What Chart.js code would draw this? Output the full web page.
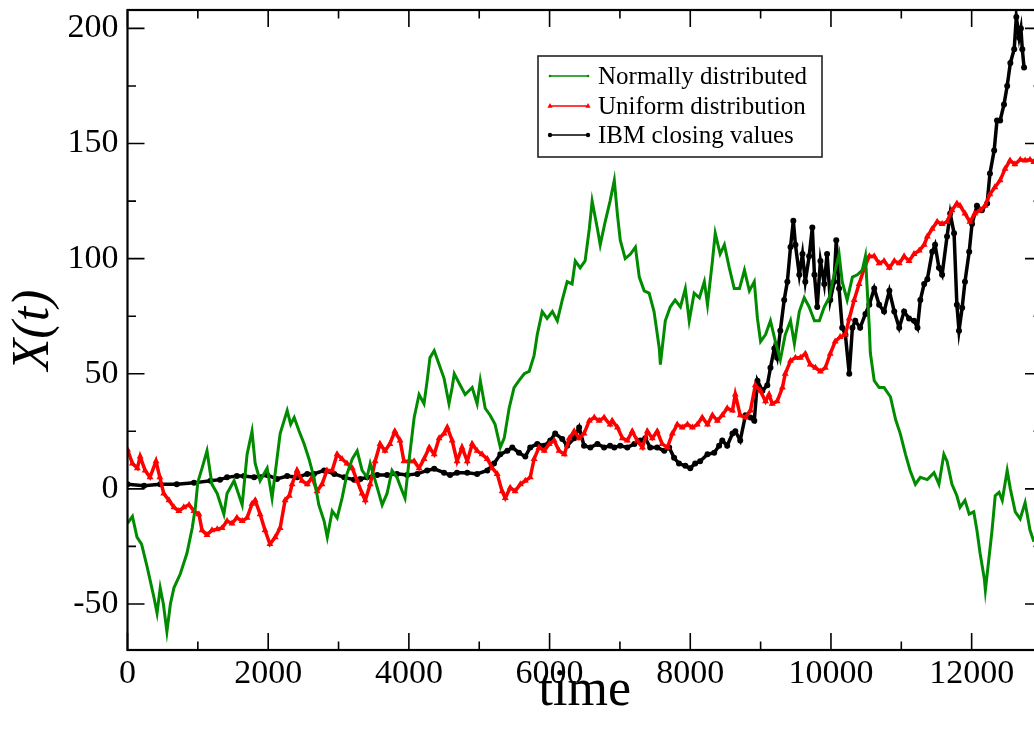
<!DOCTYPE html>
<html>
<head>
<meta charset="utf-8">
<script src="https://cdn.jsdelivr.net/npm/chart.js@4/dist/chart.umd.min.js"></script>
<style>
html,body{margin:0;padding:0;background:#fff;overflow:hidden;width:1034px;height:733px;}
canvas{display:block;}
</style>
</head>
<body>
<canvas id="c" width="1050" height="733"></canvas>
<script>
// ---- data: [time, X(t)] ----
const normalPoints = [[0,-15],[70,-12],[135,-21],[200,-24],[280,-34],[375,-47],[420,-54],[465,-43],[510,-50],[560,-62],[610,-50],[660,-43],[750,-37],[845,-28],[920,-17],[965,-8],[1000,3],[1060,9],[1130,16.5],[1200,2],[1275,-2],[1370,-11],[1415,-2],[1515,3.5],[1630,-7],[1700,15],[1770,25],[1815,11],[1885,3.5],[1985,9],[2055,-4],[2125,13],[2170,24],[2270,34],[2320,28],[2370,31],[2440,25],[2510,19.6],[2580,13],[2650,5],[2720,-7],[2795,-14],[2840,-21],[2910,-9.6],[2980,-12.6],[3050,-4],[3120,6.5],[3195,13],[3265,16.5],[3335,8],[3405,5],[3450,11],[3550,0.5],[3620,-7],[3690,-2],[3760,8],[3830,5],[3905,-1],[3945,-4],[4005,13],[4075,31],[4145,41],[4215,37],[4260,47],[4300,57],[4360,60],[4430,54],[4500,48],[4570,37],[4615,44],[4645,50],[4730,45],[4800,41],[4900,44],[4970,37],[5015,47],[5085,35],[5155,32],[5225,28],[5300,18],[5355,22],[5425,35],[5495,44],[5565,47],[5640,50],[5710,51],[5780,58],[5825,67],[5895,77],[5965,74],[6040,77],[6110,73],[6180,82],[6250,90],[6320,89],[6365,99],[6435,96],[6505,99],[6565,113],[6605,125],[6680,113],[6720,106],[6790,116],[6860,125],[6920,134],[6965,119],[7005,108],[7075,100],[7150,102],[7220,105],[7275,92],[7345,86],[7415,85],[7485,77],[7560,61],[7575,54],[7645,73],[7715,79],[7785,82],[7860,79],[7930,87],[7985,73],[8055,85],[8130,83],[8200,90],[8245,80],[8315,99],[8355,111],[8425,102],[8485,106],[8555,96],[8625,87],[8700,87],[8770,95],[8840,86],[8910,90],[8955,74],[9000,64],[9070,67],[9140,73],[9210,64],[9280,56],[9350,67],[9425,73],[9480,63],[9550,77],[9620,83],[9690,79],[9765,73],[9835,73],[9905,79],[9975,83],[10045,93],[10115,102],[10160,90],[10230,82],[10305,92],[10375,93],[10445,95],[10490,101],[10515,87],[10545,70],[10560,59],[10615,47],[10685,44],[10755,44],[10845,40],[10920,30],[10985,24],[11060,15],[11125,8],[11200,2],[11270,5],[11370,4],[11465,7],[11535,2],[11605,15],[11650,12],[11720,2],[11790,-3],[11835,-8],[11905,-5],[11965,-11],[12030,-10],[12075,-18],[12120,-28],[12180,-39],[12195,-44],[12250,-29],[12290,-18],[12335,-3],[12390,-1.5],[12435,-5],[12505,8],[12550,0],[12620,-10],[12690,-13],[12760,-6],[12830,-18],[12885,-23]];

const uniformPoints = [[0,17],[70,11],[140,9],[180,14],[250,8],[320,5],[405,12],[460,5],[515,-2],[590,-5],[660,-8],[730,-9.6],[800,-8],[875,-7],[945,-9.6],[1015,-11],[1060,-18],[1130,-20],[1200,-18],[1275,-17.5],[1345,-17],[1415,-14],[1485,-15],[1555,-12.6],[1630,-14],[1700,-12.6],[1770,-6.5],[1815,-5],[1885,-11],[1955,-18],[2025,-24],[2100,-21],[2170,-17],[2240,-5],[2300,-3],[2340,2],[2410,8],[2480,3.5],[2555,2],[2625,5],[2695,-1],[2765,2],[2835,8],[2910,8],[2980,15],[3050,13],[3120,11],[3195,9],[3265,3.5],[3335,-2],[3380,-5],[3450,2],[3520,12],[3590,19.5],[3660,16.5],[3730,19.5],[3800,25],[3875,21],[3930,12],[4005,12],[4075,12],[4145,9],[4215,13],[4290,18],[4360,15],[4430,22],[4500,24],[4545,26.7],[4615,21],[4685,12],[4755,18],[4830,12],[4900,19.5],[4970,16.5],[5040,15],[5115,13],[5185,9],[5255,6.5],[5325,-1],[5370,-4],[5440,0.5],[5510,-1],[5585,2],[5655,3.5],[5725,5],[5780,13],[5850,18],[5925,16.5],[5995,19.5],[6065,21],[6135,16.5],[6210,15],[6280,22],[6350,25],[6420,22],[6490,24],[6565,29.6],[6635,31],[6705,29.6],[6775,31],[6860,28],[6890,29.6],[6965,26.7],[7035,22],[7105,21],[7175,25],[7245,21],[7320,18],[7390,25],[7460,22],[7530,25],[7600,19.5],[7675,18],[7745,24],[7815,28],[7885,26.7],[7960,28],[8030,26.7],[8100,28],[8170,31],[8245,28],[8315,32],[8385,29.6],[8455,32],[8525,35],[8600,34],[8640,41],[8710,32],[8785,31],[8855,34],[8925,45],[8995,42.6],[9070,38],[9120,41],[9165,37],[9235,38],[9310,44],[9350,50],[9425,55.6],[9495,57],[9565,57],[9635,58.7],[9705,54],[9780,52.6],[9850,51],[9920,52.6],[9990,58.7],[10060,64],[10130,66],[10205,67],[10260,74],[10330,82],[10400,89],[10475,96],[10545,101],[10615,101],[10685,98],[10755,99],[10830,96],[10900,99],[10970,98],[11040,101],[11110,99],[11180,102],[11255,103.5],[11325,106],[11370,109.6],[11440,113],[11510,116],[11580,115],[11650,116],[11720,121],[11790,124],[11835,123],[11905,119.6],[11975,116],[12045,119.6],[12120,121],[12190,123],[12260,128],[12330,131],[12405,134],[12475,139],[12545,142.6],[12615,141],[12690,143],[12760,142.6],[12830,143],[12885,142]];

const ibmPoints = [[0,2],[235,1.3],[465,2],[700,2],[945,2.6],[1180,3.5],[1315,4],[1415,5],[1555,5.6],[1655,5.6],[1800,5],[1985,6],[2125,4.3],[2270,5.6],[2410,5],[2555,6.5],[2650,6.5],[2795,8],[2940,6.5],[3080,5],[3220,4],[3310,4.3],[3405,5],[3550,6],[3690,6],[3830,6.5],[3975,6],[4120,6.5],[4260,8],[4360,8.7],[4500,7],[4585,6],[4685,7],[4830,7],[4970,6.5],[5115,8],[5210,11],[5300,15],[5400,16.5],[5470,18],[5565,15.7],[5655,14],[5725,18],[5825,19.5],[5925,18.7],[6010,21],[6080,24],[6180,21.7],[6250,18.7],[6350,22],[6420,26.7],[6490,18.7],[6580,18],[6680,19.5],[6775,18],[6860,18.7],[6920,18],[7005,18.7],[7105,18],[7205,19.5],[7290,21],[7360,22],[7430,18],[7530,18],[7630,16.5],[7700,18],[7770,13.5],[7840,11],[7930,10],[8000,9],[8070,11],[8140,12],[8245,15],[8340,15.7],[8410,18.7],[8455,21],[8525,18.7],[8600,24],[8640,25],[8710,21],[8785,32],[8855,31],[8910,29.6],[8955,47],[9025,42.6],[9095,45],[9140,52.6],[9195,61],[9235,57],[9280,68.7],[9335,82],[9380,90],[9425,105],[9465,116.5],[9495,106],[9550,93],[9595,102],[9635,90],[9690,101],[9735,113.5],[9765,93],[9805,79],[9850,99],[9905,89],[9945,102],[9990,82],[10045,90],[10075,108],[10115,87],[10160,70],[10205,67],[10260,50],[10305,70],[10345,73],[10415,70],[10490,76],[10545,80],[10615,87],[10685,80],[10755,77],[10830,86],[10900,77],[10970,70],[11040,77],[11110,74],[11180,73],[11230,70],[11270,82],[11325,89],[11370,91],[11440,103],[11480,106],[11535,96],[11580,93],[11650,109.6],[11695,119.6],[11750,111],[11790,80],[11820,68.7],[11865,78.7],[11905,90],[11965,103],[12005,115],[12075,123],[12145,121],[12220,124],[12260,137],[12320,147],[12360,160],[12405,160],[12460,167],[12505,175],[12550,185],[12605,191],[12635,205],[12675,196],[12700,200],[12720,191],[12745,183]];

const seriesLabels = ['Normally distributed', 'Uniform distribution', 'IBM closing values'];
const xTickValues = [0, 2000, 4000, 6000, 8000, 10000, 12000];
const yTickValues = [-50, 0, 50, 100, 150, 200];
const xMinorStep = 1000, yMinorStep = 25;
const xRange = [0, 13000], yRange = [-70, 208];

// ---- styles ----
const FONT = "'Liberation Serif', 'Times New Roman', serif";
const GREEN = 'rgb(0,139,0)', RED = 'rgb(255,0,0)', BLACK = 'rgb(0,0,0)';

function toXY(arr){ return arr.map(p => ({x: p[0], y: p[1]})); }

const frameAndTicks = {
  id: 'frameAndTicks',
  afterDatasetsDraw(chart) {
    const {ctx, chartArea: a, scales: {x, y}} = chart;
    ctx.save();
    ctx.strokeStyle = '#000';
    ctx.lineCap = 'butt';
    ctx.lineWidth = 1.6;
    const major = 17, minor = 8.5;
    for (let v = xRange[0]; v <= xRange[1]; v += xMinorStep) {
      const px = x.getPixelForValue(v);
      const len = xTickValues.includes(v) ? major : minor;
      ctx.beginPath();
      ctx.moveTo(px, a.bottom); ctx.lineTo(px, a.bottom - len);
      ctx.moveTo(px, a.top); ctx.lineTo(px, a.top + len);
      ctx.stroke();
    }
    for (let v = -50; v <= yRange[1]; v += yMinorStep) {
      const py = y.getPixelForValue(v);
      const len = yTickValues.includes(v) ? major : minor;
      ctx.beginPath();
      ctx.moveTo(a.left, py); ctx.lineTo(a.left + len, py);
      ctx.moveTo(a.right, py); ctx.lineTo(a.right - len, py);
      ctx.stroke();
    }
    ctx.lineWidth = 2.2;
    ctx.strokeRect(a.left, a.top, a.right - a.left, a.bottom - a.top);
    ctx.restore();
  },
  afterDraw(chart) {
    const {ctx} = chart;
    const box = {l: 538, t: 56, r: 822, b: 157};
    ctx.save();
    ctx.fillStyle = '#fff';
    ctx.fillRect(box.l, box.t, box.r - box.l, box.b - box.t);
    ctx.strokeStyle = '#222';
    ctx.lineWidth = 1.6;
    ctx.strokeRect(box.l, box.t, box.r - box.l, box.b - box.t);
    const rows = [76, 106, 135];
    ctx.font = '25px ' + FONT;
    ctx.textBaseline = 'middle';
    ctx.textAlign = 'left';
    chart.data.datasets.forEach((ds, i) => {
      const yy = rows[i];
      ctx.strokeStyle = ds.borderColor;
      ctx.fillStyle = ds.borderColor;
      ctx.lineWidth = 1.5;
      ctx.beginPath(); ctx.moveTo(550, yy); ctx.lineTo(588, yy); ctx.stroke();
      [550, 588].forEach(px => {
        if (ds.pointStyle === 'triangle') {
          ctx.beginPath(); ctx.moveTo(px, yy - 3); ctx.lineTo(px + 2.6, yy + 1.8); ctx.lineTo(px - 2.6, yy + 1.8); ctx.closePath(); ctx.fill();
        } else {
          ctx.beginPath(); ctx.arc(px, yy, ds.pointStyle === 'circle' ? 2.2 : 1.3, 0, Math.PI * 2); ctx.fill();
        }
      });
      ctx.fillStyle = '#000';
      ctx.fillText(ds.label, 598, yy + 1);
    });
    ctx.restore();
  }
};

new Chart(document.getElementById('c'), {
  type: 'line',
  data: {
    datasets: [
      { label: seriesLabels[0], data: toXY(normalPoints), borderColor: GREEN, backgroundColor: GREEN,
        borderWidth: 3, pointRadius: 0, pointStyle: 'line', tension: 0 },
      { label: seriesLabels[1], data: toXY(uniformPoints), borderColor: RED, backgroundColor: RED,
        borderWidth: 3.5, pointRadius: 4, pointStyle: 'triangle', pointBorderWidth: 0, tension: 0 },
      { label: seriesLabels[2], data: toXY(ibmPoints), borderColor: BLACK, backgroundColor: BLACK,
        borderWidth: 3.5, pointRadius: 3, pointStyle: 'circle', pointBorderWidth: 0, tension: 0 }
    ]
  },
  options: {
    responsive: false,
    animation: false,
    events: [],
    layout: { padding: { top: 10, right: 8, left: 0, bottom: 0 } },
    scales: {
      x: {
        type: 'linear', min: xRange[0], max: xRange[1],
        afterBuildTicks: s => { s.ticks = xTickValues.map(v => ({value: v})); },
        afterFit: s => { s.height = 83; s.paddingLeft = 0; s.paddingRight = 0; },
        grid: { display: false, drawTicks: false },
        border: { display: false },
        ticks: { color: '#000', font: { family: FONT, size: 34 }, padding: 4, maxRotation: 0, autoSkip: false,
                 callback: v => String(v) },
        title: { display: true, text: 'time', color: '#000', font: { family: FONT, size: 52 }, padding: { top: 0, bottom: 10 } }
      },
      y: {
        type: 'linear', min: yRange[0], max: yRange[1],
        afterBuildTicks: s => { s.ticks = yTickValues.map(v => ({value: v})); },
        afterFit: s => { s.width = 127.5; s.paddingTop = 0; s.paddingBottom = 0; },
        grid: { display: false, drawTicks: false },
        border: { display: false },
        ticks: { color: '#000', font: { family: FONT, size: 34 }, padding: 9, callback: v => String(v) },
        title: { display: true, text: 'X(t)', color: '#000', font: { family: FONT, size: 52, style: 'italic' }, padding: { top: 3, bottom: 0 } }
      }
    },
    plugins: { legend: { display: false }, tooltip: { enabled: false } }
  },
  plugins: [frameAndTicks]
});
</script>
</body>
</html>
